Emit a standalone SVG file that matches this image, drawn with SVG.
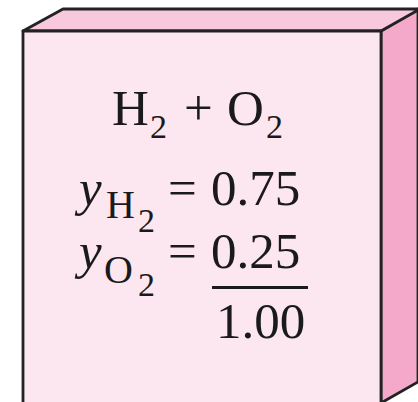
<svg xmlns="http://www.w3.org/2000/svg" width="418" height="402" viewBox="0 0 418 402">
<style>
.edge{stroke:#222;stroke-width:2.8;stroke-linejoin:round}
.t{font-family:"Liberation Serif","Times New Roman",serif;fill:#1a1a1a}
.big{font-size:51px}
.sub{font-size:40px}
.sub2{font-size:34px}
.it{font-style:italic}
</style>
<rect width="418" height="402" fill="#ffffff"/>
<g id="box">
<polygon class="edge" points="381,31 418,9 418,382 381,403" fill="#f4a9cb"/>
<polygon class="edge" points="23,31 63,9 420,9 381,31" fill="#f8c9dc"/>
<polygon class="edge" points="23,31 381,31 381,405 23,405" fill="#fce6f0"/>
</g>
<g id="label">
<text class="t big" x="112" y="125">H</text>
<text class="t sub2" x="150" y="138">2</text>
<text class="t big" x="184" y="125">+</text>
<text class="t big" x="227" y="125">O</text>
<text class="t sub2" x="266" y="138">2</text>
<text class="t big it" x="79" y="205">y</text>
<text class="t sub" x="106" y="218">H</text>
<text class="t sub2" x="138" y="232">2</text>
<text class="t big" x="168" y="205">=</text>
<text class="t big" x="211" y="205">0.75</text>
<text class="t big it" x="79" y="268">y</text>
<text class="t sub" x="104" y="283">O</text>
<text class="t sub2" x="138" y="296">2</text>
<text class="t big" x="168" y="268">=</text>
<text class="t big" x="211" y="268">0.25</text>
<line x1="212" y1="287.5" x2="308" y2="287.5" stroke="#1a1a1a" stroke-width="3"/>
<text class="t big" x="216" y="338">1.00</text>
</g>
</svg>
